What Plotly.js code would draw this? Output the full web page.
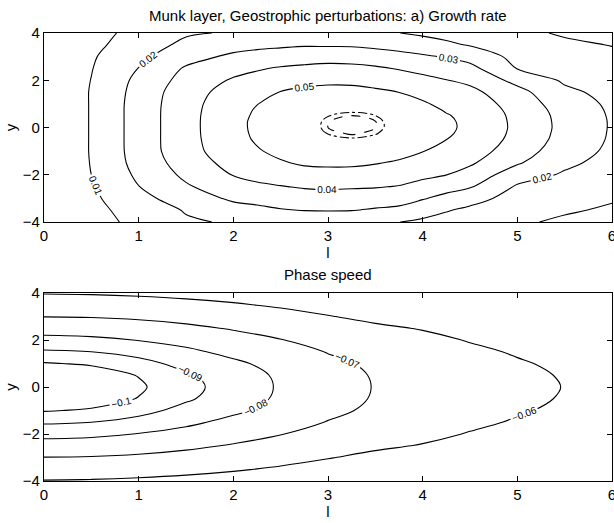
<!DOCTYPE html>
<html>
<head>
<meta charset="utf-8">
<script src="https://cdn.plot.ly/plotly-3.0.1.min.js"></script>
<style>
html,body{margin:0;padding:0;background:#ffffff;}
#chart{width:614px;height:523px;}
</style>
</head>
<body>
<div id="chart"></div>
<script>
// ---------- Panel a) Growth rate: wavenumber l (x) vs y ----------
const growthL = [0, 0.5, 1, 1.5, 2, 2.25, 2.5, 2.75, 3, 3.25, 3.5, 3.75, 4, 4.25, 4.5, 5, 5.5, 6];
const growthY = [-4, -3.5, -3, -2.5, -2, -1.5, -1, -0.5, -0.25, 0, 0.25, 0.5, 0.75, 1, 1.5, 2, 2.5, 3, 3.5, 4];
const growthZ = [
  [0, 0.0065, 0.0124, 0.0188, 0.0210, 0.0205, 0.0205, 0.0205, 0.0204, 0.0203, 0.0202, 0.0201, 0.0183, 0.0166, 0.0149, 0.0114, 0.0084, 0.0065],
  [0, 0.0071, 0.0142, 0.0207, 0.0261, 0.0274, 0.0293, 0.0303, 0.0306, 0.0303, 0.0289, 0.0277, 0.0239, 0.0206, 0.0181, 0.0139, 0.0111, 0.0087],
  [0, 0.0081, 0.0169, 0.0249, 0.0316, 0.0333, 0.0346, 0.0355, 0.0360, 0.0356, 0.0350, 0.0339, 0.0307, 0.0271, 0.0233, 0.0164, 0.0137, 0.0109],
  [0, 0.0089, 0.0198, 0.0289, 0.0360, 0.0385, 0.0396, 0.0409, 0.0413, 0.0410, 0.0406, 0.0396, 0.0369, 0.0336, 0.0309, 0.0189, 0.0163, 0.0133],
  [0, 0.0100, 0.0218, 0.0320, 0.0404, 0.0424, 0.0444, 0.0463, 0.0467, 0.0466, 0.0455, 0.0442, 0.0421, 0.0401, 0.0364, 0.0243, 0.0189, 0.0153],
  [0, 0.0104, 0.0234, 0.0345, 0.0434, 0.0458, 0.0491, 0.0512, 0.0517, 0.0516, 0.0505, 0.0487, 0.0462, 0.0434, 0.0413, 0.0310, 0.0218, 0.0170],
  [0, 0.0106, 0.0241, 0.0364, 0.0456, 0.0492, 0.0522, 0.0536, 0.0549, 0.0552, 0.0547, 0.0534, 0.0503, 0.0468, 0.0448, 0.0347, 0.0247, 0.0181],
  [0, 0.0106, 0.0242, 0.0367, 0.0469, 0.0510, 0.0540, 0.05582, 0.05717, 0.05764, 0.05724, 0.05596, 0.0535, 0.0501, 0.0469, 0.0371, 0.0264, 0.0189],
  [0, 0.0106, 0.0242, 0.0367, 0.0474, 0.0514, 0.0544, 0.05652, 0.05787, 0.05834, 0.05794, 0.05666, 0.0544, 0.0512, 0.0475, 0.0377, 0.0268, 0.0191],
  [0, 0.0106, 0.0242, 0.0367, 0.0476, 0.0516, 0.0547, 0.05685, 0.05820, 0.05867, 0.05827, 0.05699, 0.0549, 0.0518, 0.0478, 0.0380, 0.0271, 0.0192],
  [0, 0.0106, 0.0242, 0.0367, 0.0476, 0.0516, 0.0547, 0.05681, 0.05816, 0.05863, 0.05823, 0.05695, 0.0548, 0.0516, 0.0477, 0.0379, 0.0270, 0.0192],
  [0, 0.0106, 0.0242, 0.0367, 0.0473, 0.0512, 0.0543, 0.05641, 0.05776, 0.05823, 0.05783, 0.05655, 0.0542, 0.0507, 0.0474, 0.0376, 0.0267, 0.0190],
  [0, 0.0106, 0.0242, 0.0366, 0.0468, 0.0507, 0.0537, 0.05564, 0.05699, 0.05746, 0.05706, 0.05578, 0.0533, 0.0491, 0.0467, 0.0369, 0.0260, 0.0187],
  [0, 0.0106, 0.0241, 0.0364, 0.0462, 0.0498, 0.0529, 0.0545, 0.05585, 0.05632, 0.05592, 0.05464, 0.0513, 0.0473, 0.0456, 0.0358, 0.0249, 0.0183],
  [0, 0.0106, 0.0235, 0.0357, 0.0441, 0.0463, 0.0503, 0.0519, 0.0528, 0.0529, 0.0516, 0.0499, 0.0469, 0.0438, 0.0425, 0.0332, 0.0219, 0.0173],
  [0, 0.0102, 0.0224, 0.0335, 0.0411, 0.0429, 0.0456, 0.0473, 0.0481, 0.0478, 0.0465, 0.0447, 0.0425, 0.0403, 0.0378, 0.0270, 0.0187, 0.0159],
  [0, 0.0096, 0.0202, 0.0311, 0.0367, 0.0392, 0.0409, 0.0419, 0.0427, 0.0424, 0.0413, 0.0394, 0.0373, 0.0349, 0.0328, 0.0197, 0.0163, 0.0142],
  [0, 0.0089, 0.0177, 0.0263, 0.0319, 0.0337, 0.0349, 0.0358, 0.0364, 0.0361, 0.0348, 0.0329, 0.0312, 0.0293, 0.0265, 0.0171, 0.0139, 0.0119],
  [0, 0.0077, 0.0147, 0.0224, 0.0263, 0.0275, 0.0283, 0.0291, 0.0289, 0.0288, 0.0276, 0.0265, 0.0244, 0.0218, 0.0193, 0.0144, 0.0115, 0.0097],
  [0, 0.0067, 0.0129, 0.0188, 0.0210, 0.0205, 0.0205, 0.0205, 0.0204, 0.0203, 0.0202, 0.0201, 0.0184, 0.0168, 0.0151, 0.0118, 0.0091, 0.0075]
];
const growthLevels = [0.01, 0.05, 0.01];      // start, end, step of labelled contours
const growthPeakOuter = 0.0578;               // dash-dot ellipse
const growthPeakInner = 0.0582;               // dashed ellipse

// ---------- Panel b) Phase speed ----------
const phaseL = [0, 0.5, 1, 1.5, 2, 2.5, 3, 3.5, 4, 4.5, 5, 5.5, 6];
const phaseY = [-4, -3.5, -3, -2.5, -2, -1.5, -1, -0.5, 0, 0.5, 1, 1.5, 2, 2.5, 3, 3.5, 4];
const phaseZ = [
  [-0.0596, -0.0593, -0.0586, -0.0576, -0.0564, -0.0548, -0.0528, -0.0505, -0.0500, -0.0492, -0.0487, -0.0480, -0.0472],
  [-0.0647, -0.0644, -0.0636, -0.0624, -0.0608, -0.0589, -0.0567, -0.0541, -0.0532, -0.0518, -0.0510, -0.0502, -0.0490],
  [-0.0698, -0.0695, -0.0685, -0.0670, -0.0651, -0.0628, -0.0604, -0.0579, -0.0565, -0.0545, -0.0535, -0.0522, -0.0508],
  [-0.0759, -0.0754, -0.0740, -0.0718, -0.0693, -0.0665, -0.0635, -0.0615, -0.0595, -0.0568, -0.0555, -0.0540, -0.0525],
  [-0.0828, -0.0819, -0.0797, -0.0769, -0.0734, -0.0703, -0.0665, -0.0644, -0.0623, -0.0595, -0.0575, -0.0557, -0.0540],
  [-0.0913, -0.0900, -0.0866, -0.0819, -0.0775, -0.0741, -0.0696, -0.0667, -0.0644, -0.0617, -0.0592, -0.0572, -0.0555],
  [-0.1007, -0.0989, -0.0933, -0.0868, -0.0817, -0.0768, -0.0721, -0.0683, -0.0659, -0.0634, -0.0608, -0.0585, -0.0567],
  [-0.1062, -0.1046, -0.0996, -0.0914, -0.0846, -0.0785, -0.0736, -0.0693, -0.0668, -0.0644, -0.0619, -0.0594, -0.0575],
  [-0.1080, -0.1064, -0.1015, -0.0931, -0.0855, -0.0790, -0.0741, -0.0696, -0.0671, -0.0647, -0.0622, -0.0598, -0.0578],
  [-0.1062, -0.1046, -0.0996, -0.0914, -0.0846, -0.0785, -0.0736, -0.0693, -0.0668, -0.0644, -0.0619, -0.0594, -0.0575],
  [-0.1007, -0.0989, -0.0933, -0.0868, -0.0817, -0.0768, -0.0721, -0.0683, -0.0659, -0.0634, -0.0608, -0.0585, -0.0567],
  [-0.0913, -0.0900, -0.0866, -0.0819, -0.0775, -0.0741, -0.0696, -0.0667, -0.0644, -0.0617, -0.0592, -0.0572, -0.0555],
  [-0.0828, -0.0819, -0.0797, -0.0769, -0.0734, -0.0703, -0.0665, -0.0644, -0.0623, -0.0595, -0.0575, -0.0557, -0.0540],
  [-0.0759, -0.0754, -0.0740, -0.0718, -0.0693, -0.0665, -0.0635, -0.0615, -0.0595, -0.0568, -0.0555, -0.0540, -0.0525],
  [-0.0698, -0.0695, -0.0685, -0.0670, -0.0651, -0.0628, -0.0604, -0.0579, -0.0565, -0.0545, -0.0535, -0.0522, -0.0508],
  [-0.0647, -0.0644, -0.0636, -0.0624, -0.0608, -0.0589, -0.0567, -0.0541, -0.0532, -0.0518, -0.0510, -0.0502, -0.0490],
  [-0.0596, -0.0593, -0.0586, -0.0576, -0.0564, -0.0548, -0.0528, -0.0505, -0.0500, -0.0492, -0.0487, -0.0480, -0.0472]
];
const phaseLevels = [-0.1, -0.06, 0.01];

const xTicks = [0, 1, 2, 3, 4, 5, 6];
const yTicks = [-4, -2, 0, 2, 4];
const titleTop = 'Munk layer, Geostrophic perturbations: a) Growth rate';
const titleBottom = 'Phase speed';

// ---------- drawing ----------
const FONT = 'Liberation Sans, Arial, Helvetica, sans-serif';
const lblFont = {family: FONT, size: 10, color: 'black'};

function contourTrace(x, y, z, lv, xa, ya, dash, labels) {
  return {
    type: 'contour', x: x, y: y, z: z, xaxis: xa, yaxis: ya,
    autocontour: false,
    contours: {start: lv[0], end: lv[1] + lv[2] * 0.01, size: lv[2],
               coloring: 'none', showlabels: labels, labelfont: lblFont},
    line: {color: 'black', width: 1.1, smoothing: 1, dash: dash},
    showscale: false, hoverinfo: 'skip'
  };
}

const data = [
  contourTrace(growthL, growthY, growthZ, growthLevels, 'x', 'y', 'solid', true),
  contourTrace(growthL, growthY, growthZ, [growthPeakOuter, growthPeakOuter, 0.001], 'x', 'y', 'dashdot', false),
  contourTrace(growthL, growthY, growthZ, [growthPeakInner, growthPeakInner, 0.001], 'x', 'y', 'dash', false),
  contourTrace(phaseL, phaseY, phaseZ, phaseLevels, 'x2', 'y2', 'solid', true)
];

function ax(extra) {
  return Object.assign({
    showline: true, linecolor: 'black', linewidth: 1.2, mirror: 'ticks',
    ticks: 'inside', ticklen: 5, tickwidth: 1, tickcolor: 'black',
    showgrid: false, zeroline: false, ticklabeloverflow: 'allow',
    tickfont: {family: FONT, size: 15, color: 'black'}
  }, extra);
}

const layout = {
  width: 614, height: 523,
  margin: {l: 44, r: 2, t: 33, b: 42},
  paper_bgcolor: 'white', plot_bgcolor: 'white',
  showlegend: false,
  font: {family: FONT, color: 'black'},
  xaxis: ax({range: [0, 6], tickvals: xTicks, anchor: 'y',
             title: {text: 'l', standoff: 0, font: {family: FONT, size: 15}}}),
  yaxis: ax({range: [-4, 4], tickvals: yTicks, anchor: 'x', domain: [0.578, 1],
             title: {text: 'y', standoff: 2, font: {family: FONT, size: 15}}}),
  xaxis2: ax({range: [0, 6], tickvals: xTicks, anchor: 'y2',
              title: {text: 'l', standoff: 0, font: {family: FONT, size: 15}}}),
  yaxis2: ax({range: [-4, 4], tickvals: yTicks, anchor: 'x2', domain: [0, 0.4196],
              title: {text: 'y', standoff: 2, font: {family: FONT, size: 15}}}),
  annotations: [
    {text: titleTop, xref: 'paper', yref: 'paper', x: 0.5, y: 1.040,
     xanchor: 'center', yanchor: 'middle', showarrow: false, font: {family: FONT, size: 15}},
    {text: titleBottom, xref: 'paper', yref: 'paper', x: 0.5, y: 0.46,
     xanchor: 'center', yanchor: 'middle', showarrow: false, font: {family: FONT, size: 15}}
  ]
};

Plotly.newPlot('chart', data, layout, {staticPlot: true, displayModeBar: false});
</script>
</body>
</html>
